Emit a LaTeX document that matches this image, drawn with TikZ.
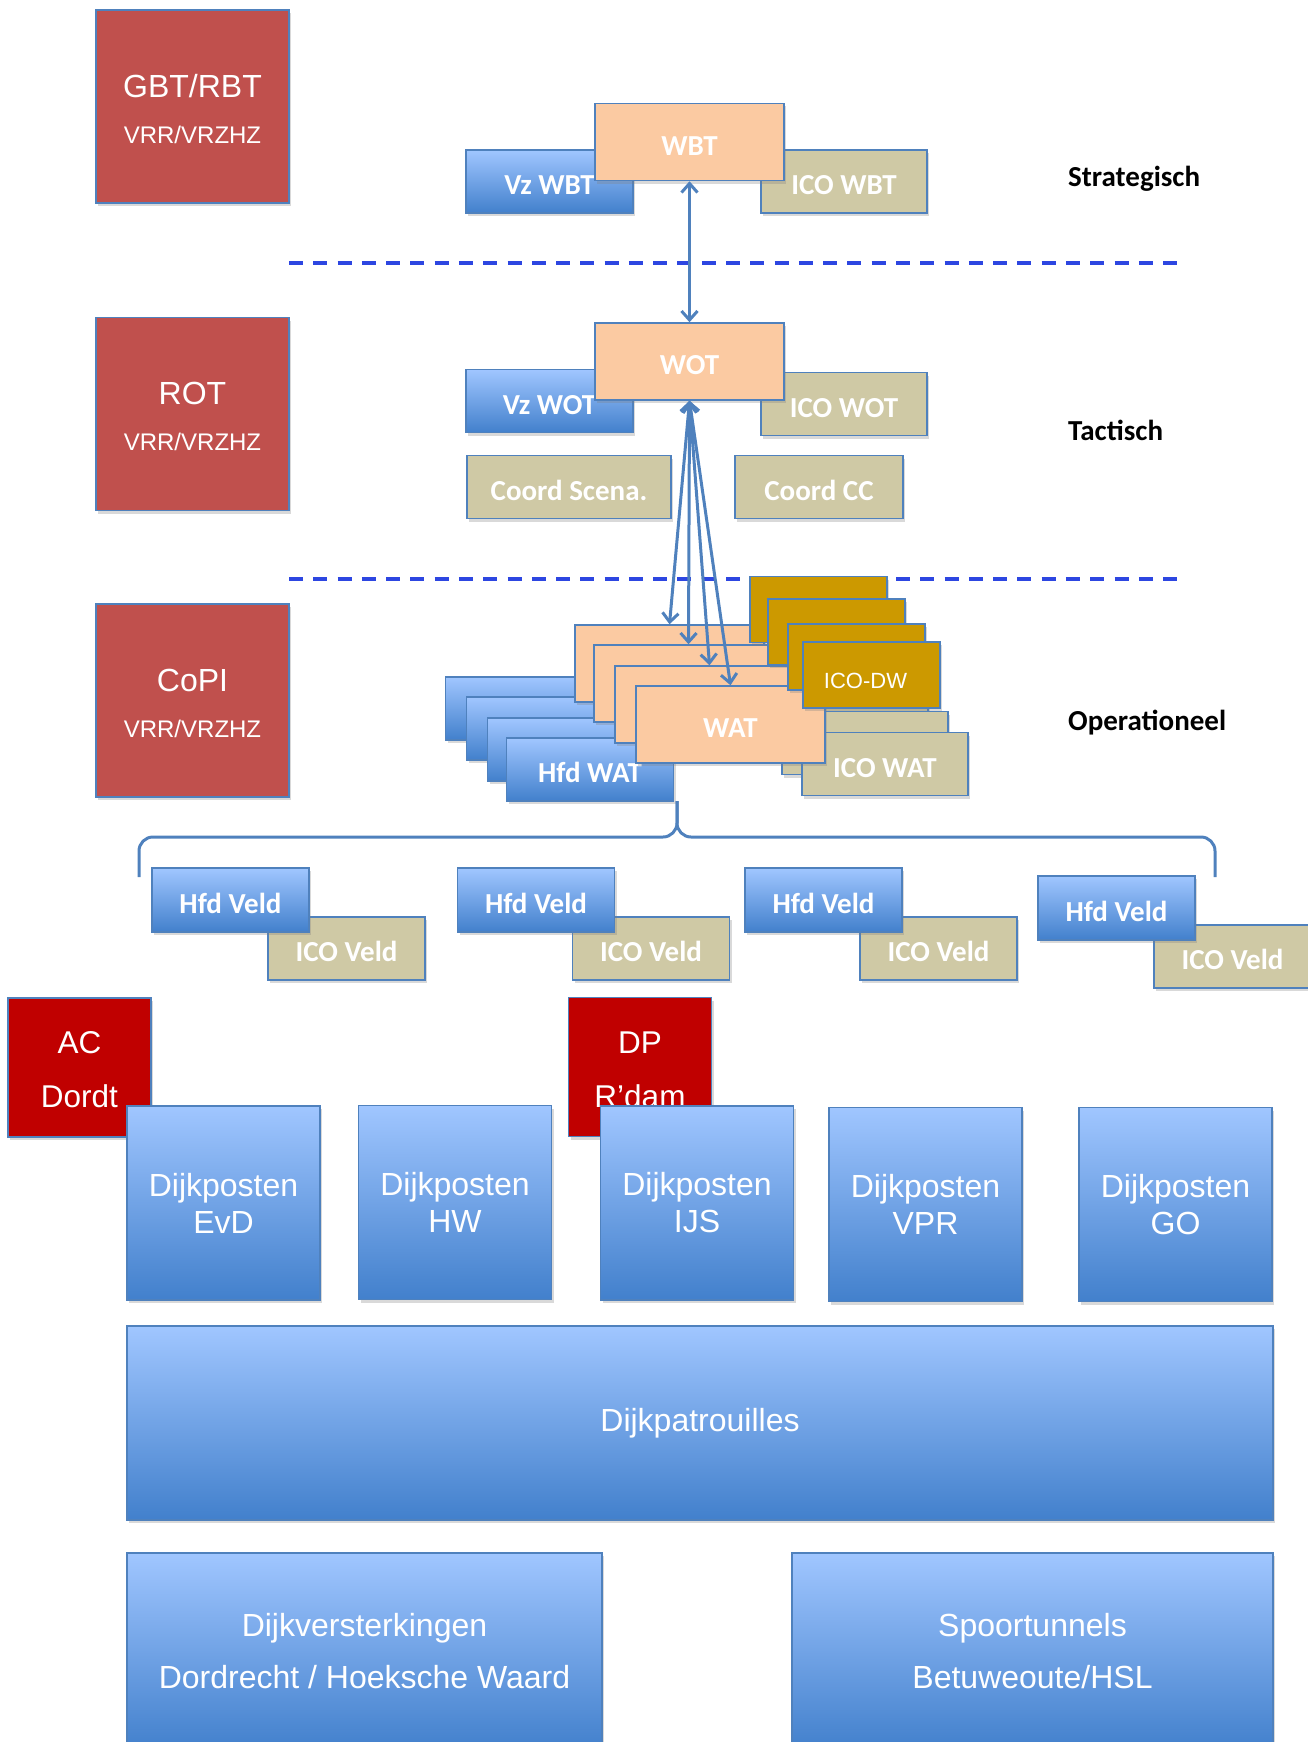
\documentclass[tikz,border=0pt]{standalone}
\usepackage{fontspec}
\setmainfont{Liberation Sans}
\newfontfamily\calib{Carlito}
\usepackage{tikz}
\usetikzlibrary{arrows.meta,shadows}
\definecolor{edge}{RGB}{79,129,189}
\definecolor{brick}{RGB}{192,80,77}
\definecolor{crimson}{RGB}{192,0,0}
\definecolor{peach}{RGB}{251,202,162}
\definecolor{khaki}{RGB}{207,201,165}
\definecolor{ochre}{RGB}{204,153,0}
\definecolor{skytop}{RGB}{160,198,255}
\definecolor{skybot}{RGB}{66,128,204}
\definecolor{sepblue}{RGB}{45,70,225}

\begin{document}
\begin{tikzpicture}[x=1pt, y=-1pt,
    unit/.style={rectangle, draw=edge, line width=1.5pt, inner sep=0pt, text=white,
        drop shadow={shadow xshift=2pt, shadow yshift=-3pt, opacity=0.3}},
    label/.style={font=\calib\bfseries\fontsize{29}{35}\selectfont, text height=26pt, text depth=0pt},
    team/.style={unit, label, fill=peach, minimum width=189pt, minimum height=77pt},
    vz/.style={unit, label, top color=skytop, bottom color=skybot, minimum width=167pt, minimum height=63pt},
    ico/.style={unit, label, fill=khaki, minimum width=166pt, minimum height=63pt},
    dw/.style={unit, fill=ochre, minimum width=137pt, minimum height=66pt, font=\fontsize{22}{26}\selectfont, text height=27.7pt, text depth=0pt},
    command/.style={unit, fill=brick, minimum width=193pt, minimum height=193pt, align=center, font=\fontsize{32}{46}\selectfont},
    depot/.style={unit, fill=crimson, minimum width=143pt, minimum height=139pt, align=center, font=\fontsize{31.5}{54}\selectfont},
    dijk/.style={unit, top color=skytop, bottom color=skybot, align=center, font=\fontsize{32}{37}\selectfont},
    tier/.style={anchor=base west, inner sep=0pt, font=\calib\bfseries\fontsize{29}{35}\selectfont},
    split/.style={sepblue, line width=4pt, dash pattern=on 14pt off 10.28pt},
    arrow/.style={<->, >={Straight Barb[length=9pt,width=16pt]}, edge, line width=3pt},
    curly/.style={edge, line width=3pt, rounded corners=14pt}
]
\useasboundingbox (0,0) rectangle (1308,1742);
\clip (0,0) rectangle (1308,1742);

% Level separators
\coordinate (s1a) at (289,263);
\coordinate (s1b) at (1177,263);
\coordinate (s2a) at (289,579);
\coordinate (s2b) at (1177,579);
\draw[split] (s1a) -- (s1b);
\draw[split] (s2a) -- (s2b);

% Regional teams
\node[command] (gbt) at (192.5,106.5) {\rule{0pt}{28pt}GBT/RBT\\{\fontsize{24}{46}\selectfont VRR/VRZHZ}};
\node[command] (rot) at (192.5,414) {\rule{0pt}{28pt}ROT\\{\fontsize{24}{46}\selectfont VRR/VRZHZ}};
\node[command] (copi) at (192.5,700.5) {\rule{0pt}{28pt}CoPI\\{\fontsize{24}{46}\selectfont VRR/VRZHZ}};

% Strategic level
\node[vz] (vzwbt) at (549.5,181.5) {Vz WBT};
\node[ico] (icowbt) at (844,181.5) {ICO WBT};
\node[team] (wbt) at (689.5,142) {WBT};

% Tactical level
\node[vz] (vzwot) at (549.5,401) {Vz WOT};
\node[ico] (icowot) at (844,404) {ICO WOT};
\node[team] (wot) at (689.5,361.5) {WOT};
\node[ico, minimum width=204pt] (scena) at (569,487) {Coord Scena.};
\node[ico, minimum width=168pt] (cc) at (819,487) {Coord CC};

% Operational level
\node[ico] (icowat1) at (825,703) {};
\node[ico] (icowat2) at (845,723) {};
\node[ico] (icowat3) at (865,743) {};
\node[ico] (icowat4) at (885,764) {ICO WAT};
\node[vz] (hfdwat1) at (529,708.5) {};
\node[vz] (hfdwat2) at (550,728.5) {};
\node[vz] (hfdwat3) at (571,749.5) {};
\node[vz] (hfdwat4) at (590,769.5) {Hfd WAT};
\node[team] (wat1) at (669.5,663.5) {};
\node[team] (wat2) at (688.5,683.5) {};
\node[team] (wat3) at (709.5,704.5) {};
\node[team] (wat4) at (730.5,724.5) {WAT};
\node[dw] (dw1) at (818.5,609.5) {};
\node[dw] (dw2) at (836.5,632) {};
\node[dw] (dw3) at (856.5,657) {};
\node[dw] (dw4) at (871.5,675) {ICO-DW\hspace*{12pt}};

% Links between the teams
\draw[arrow] (wbt) -- (wot);
\draw[arrow] (wot.south) -- (wat1.north);
\draw[arrow] (wot.south) -- (wat2.north);
\draw[arrow] (wot.south) -- (wat3.north);
\draw[arrow] (wot.south) -- (wat4.north);

% Brace over the field teams
\coordinate (bl) at (139,877);
\coordinate (br) at (1215,877);
\coordinate (knot) at (677,837);
\coordinate (tip) at (677,801);
\draw[curly] (bl) |- (knot) -- (tip);
\draw[curly] (br) |- (knot) -- (tip);

% Field teams
\node[ico, minimum width=157pt] (icoveld1) at (346.5,948.5) {ICO Veld};
\node[vz, minimum width=157pt, minimum height=64pt] (veld1) at (230.5,900) {Hfd Veld};
\node[ico, minimum width=157pt] (icoveld2) at (651,948.5) {ICO Veld};
\node[vz, minimum width=157pt, minimum height=64pt] (veld2) at (536,900) {Hfd Veld};
\node[ico, minimum width=157pt] (icoveld3) at (938.5,948.5) {ICO Veld};
\node[vz, minimum width=157pt, minimum height=64pt] (veld3) at (823.5,900) {Hfd Veld};
\node[ico, minimum width=157pt] (icoveld4) at (1232.5,956.5) {ICO Veld};
\node[vz, minimum width=157pt, minimum height=64pt] (veld4) at (1116.5,908) {Hfd Veld};

% Posts
\node[depot] (ac) at (79.5,1067.5) {\rule{0pt}{27pt}AC\\Dordt};
\node[depot] (dp) at (640,1067) {\rule{0pt}{27pt}DP\\R’dam};
\node[dijk, minimum width=193pt, minimum height=194pt] (evd) at (223.5,1203) {Dijkposten\\EvD};
\node[dijk, minimum width=193pt, minimum height=194pt] (hw) at (455,1202.5) {Dijkposten\\HW};
\node[dijk, minimum width=193pt, minimum height=194pt] (ijs) at (697,1203) {Dijkposten\\IJS};
\node[dijk, minimum width=193pt, minimum height=194pt] (vpr) at (925.5,1204.5) {Dijkposten\\VPR};
\node[dijk, minimum width=193pt, minimum height=194pt] (go) at (1175.5,1204.5) {Dijkposten\\GO};

% Patrols and works
\node[dijk, minimum width=1146pt, minimum height=194pt] (patr) at (700,1423) {Dijkpatrouilles};
\node[dijk, minimum width=475pt, minimum height=197pt, font=\fontsize{32}{52}\selectfont] (versterk) at (364.5,1651.5) {Dijkversterkingen\\Dordrecht / Hoeksche Waard};
\node[dijk, minimum width=481pt, minimum height=197pt, font=\fontsize{32}{52}\selectfont] (spoor) at (1032.5,1651.5) {Spoortunnels\\Betuweoute/HSL};

% Level names
\node[tier] (strat) at (1068,186) {Strategisch};
\node[tier] (tact) at (1068,440) {Tactisch};
\node[tier] (oper) at (1068,730) {Operationeel};

\end{tikzpicture}
\end{document}
